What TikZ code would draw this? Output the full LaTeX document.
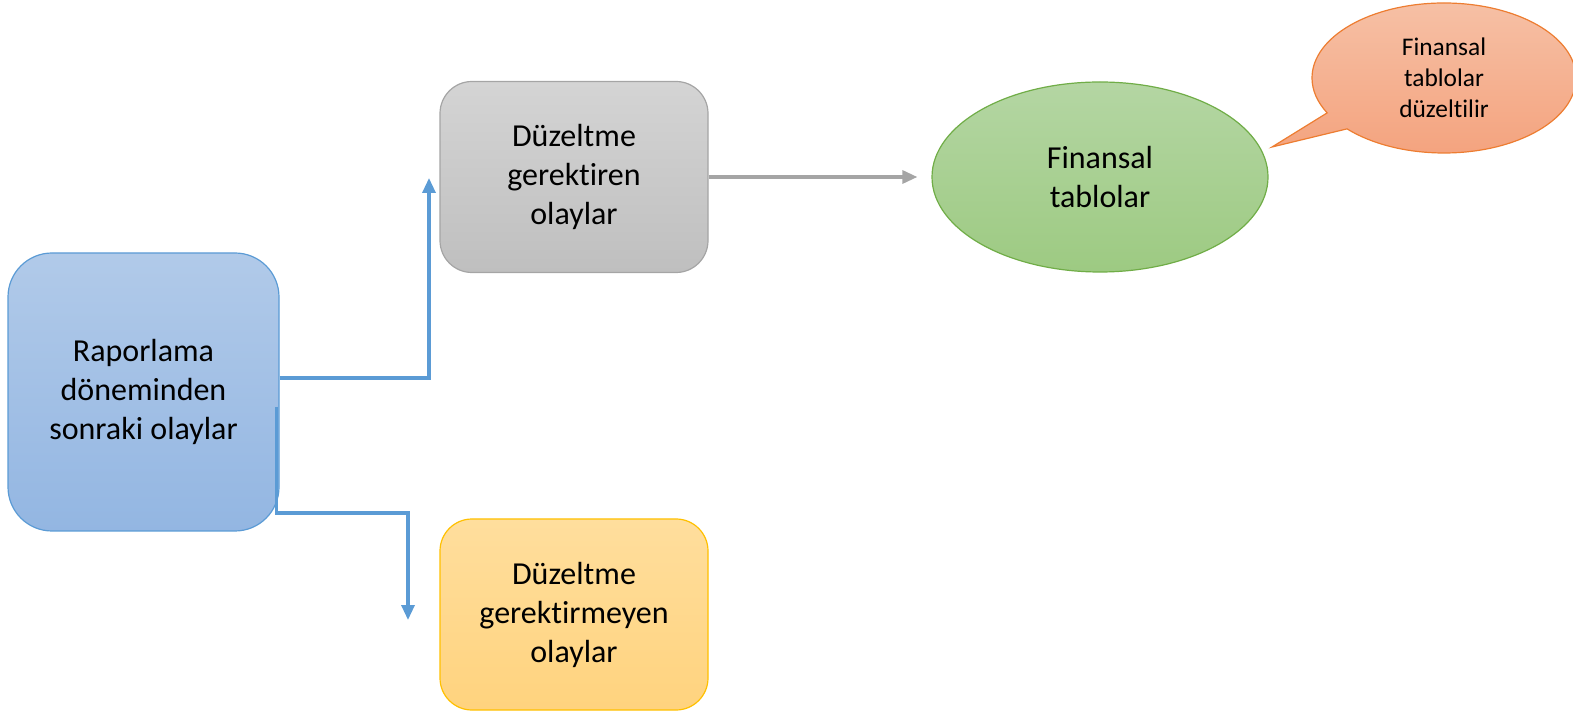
\documentclass[tikz,border=0pt]{standalone}
\usepackage{fontspec}
\setmainfont{Carlito}[Ligatures=NoCommon, RawFeature={-liga;-calt;-clig;-dlig}]
\usepackage{xcolor}
\usepackage{tikz}
\usetikzlibrary{shapes,shapes.callouts,arrows.meta,positioning}
\definecolor{evblue}{HTML}{5B9BD5}
\definecolor{evgray}{HTML}{A5A5A5}
\definecolor{evyellow}{HTML}{FFC000}
\definecolor{evgreen}{HTML}{70AD47}
\definecolor{evorange}{HTML}{ED7D31}
\definecolor{bluetop}{HTML}{B1CAE9}
\definecolor{bluebot}{HTML}{93B6E2}
\definecolor{graytop}{HTML}{D4D4D4}
\definecolor{graybot}{HTML}{BFBFBF}
\definecolor{yellowtop}{HTML}{FFDE9D}
\definecolor{yellowbot}{HTML}{FFD37E}
\definecolor{greentop}{HTML}{B4D6A3}
\definecolor{greenbot}{HTML}{9DCA82}
\definecolor{orangetop}{HTML}{F6C0A5}
\definecolor{orangebot}{HTML}{F4A27D}
\tikzset{
	event/.style = {
		draw, rectangle, line width=0.6pt, align=center, inner sep=0pt,
		font=\fontsize{16}{19.5}\selectfont
	}
}
\tikzset{
	flow/.style = {
		line width=1.6pt, -{Triangle[length=7.5pt,width=6.5pt]}
	}
}
\tikzset{
	statement/.style = {
		draw, ellipse, line width=0.6pt, align=center, inner sep=0pt,
		font=\fontsize{16}{19.5}\selectfont
	}
}

\begin{document}
\begin{tikzpicture}[x=0.5pt, y=-0.5pt]
	\useasboundingbox (0,0) rectangle (1573,715);
	\node[event, rounded corners=22pt, minimum width=135.5pt, minimum height=139pt,
		draw=evblue, top color=bluetop, bottom color=bluebot]
		(Raporlama) at (143.5,392) {Raporlama\\döneminden\\sonraki olaylar};
	\node[event, rounded corners=16pt, minimum width=134pt, minimum height=95.5pt,
		draw=evgray, top color=graytop, bottom color=graybot]
		(Gerektiren) at (574,177) {Düzeltme\\gerektiren\\olaylar};
	\node[event, rounded corners=16pt, minimum width=134pt, minimum height=95.5pt,
		draw=evyellow, top color=yellowtop, bottom color=yellowbot]
		(Gerektirmeyen) at (574,614.5) {Düzeltme\\gerektirmeyen\\olaylar};
	\node[statement, minimum width=168pt, minimum height=95pt,
		draw=evgreen, top color=greentop, bottom color=greenbot]
		(Finansal) at (1100,177) {Finansal\\tablolar};
	\coordinate (tip) at (1272,147);
	\node[draw=evorange, ellipse callout, callout absolute pointer={(tip)},
		line width=0.6pt, minimum width=132pt, minimum height=75pt, inner sep=0pt,
		align=center, font=\fontsize{12.7}{15.5}\selectfont,
		top color=orangetop, bottom color=orangebot]
		(Duzeltilir) at (1444,78) {Finansal\\tablolar\\düzeltilir};
	\coordinate (up) at (429,178);
	\coordinate (down) at (408,620);
	\draw[flow, evblue] ([shift={(0,-14)}]Raporlama.east) -| (up);
	\draw[flow, evblue] ([shift={(-3,15)}]Raporlama.east) -- ++(0,106) -| (down);
	\draw[flow, evgray, shorten >=7pt] (Gerektiren.east) -- (Gerektiren.east -| Finansal.west);
\end{tikzpicture}
\end{document}
